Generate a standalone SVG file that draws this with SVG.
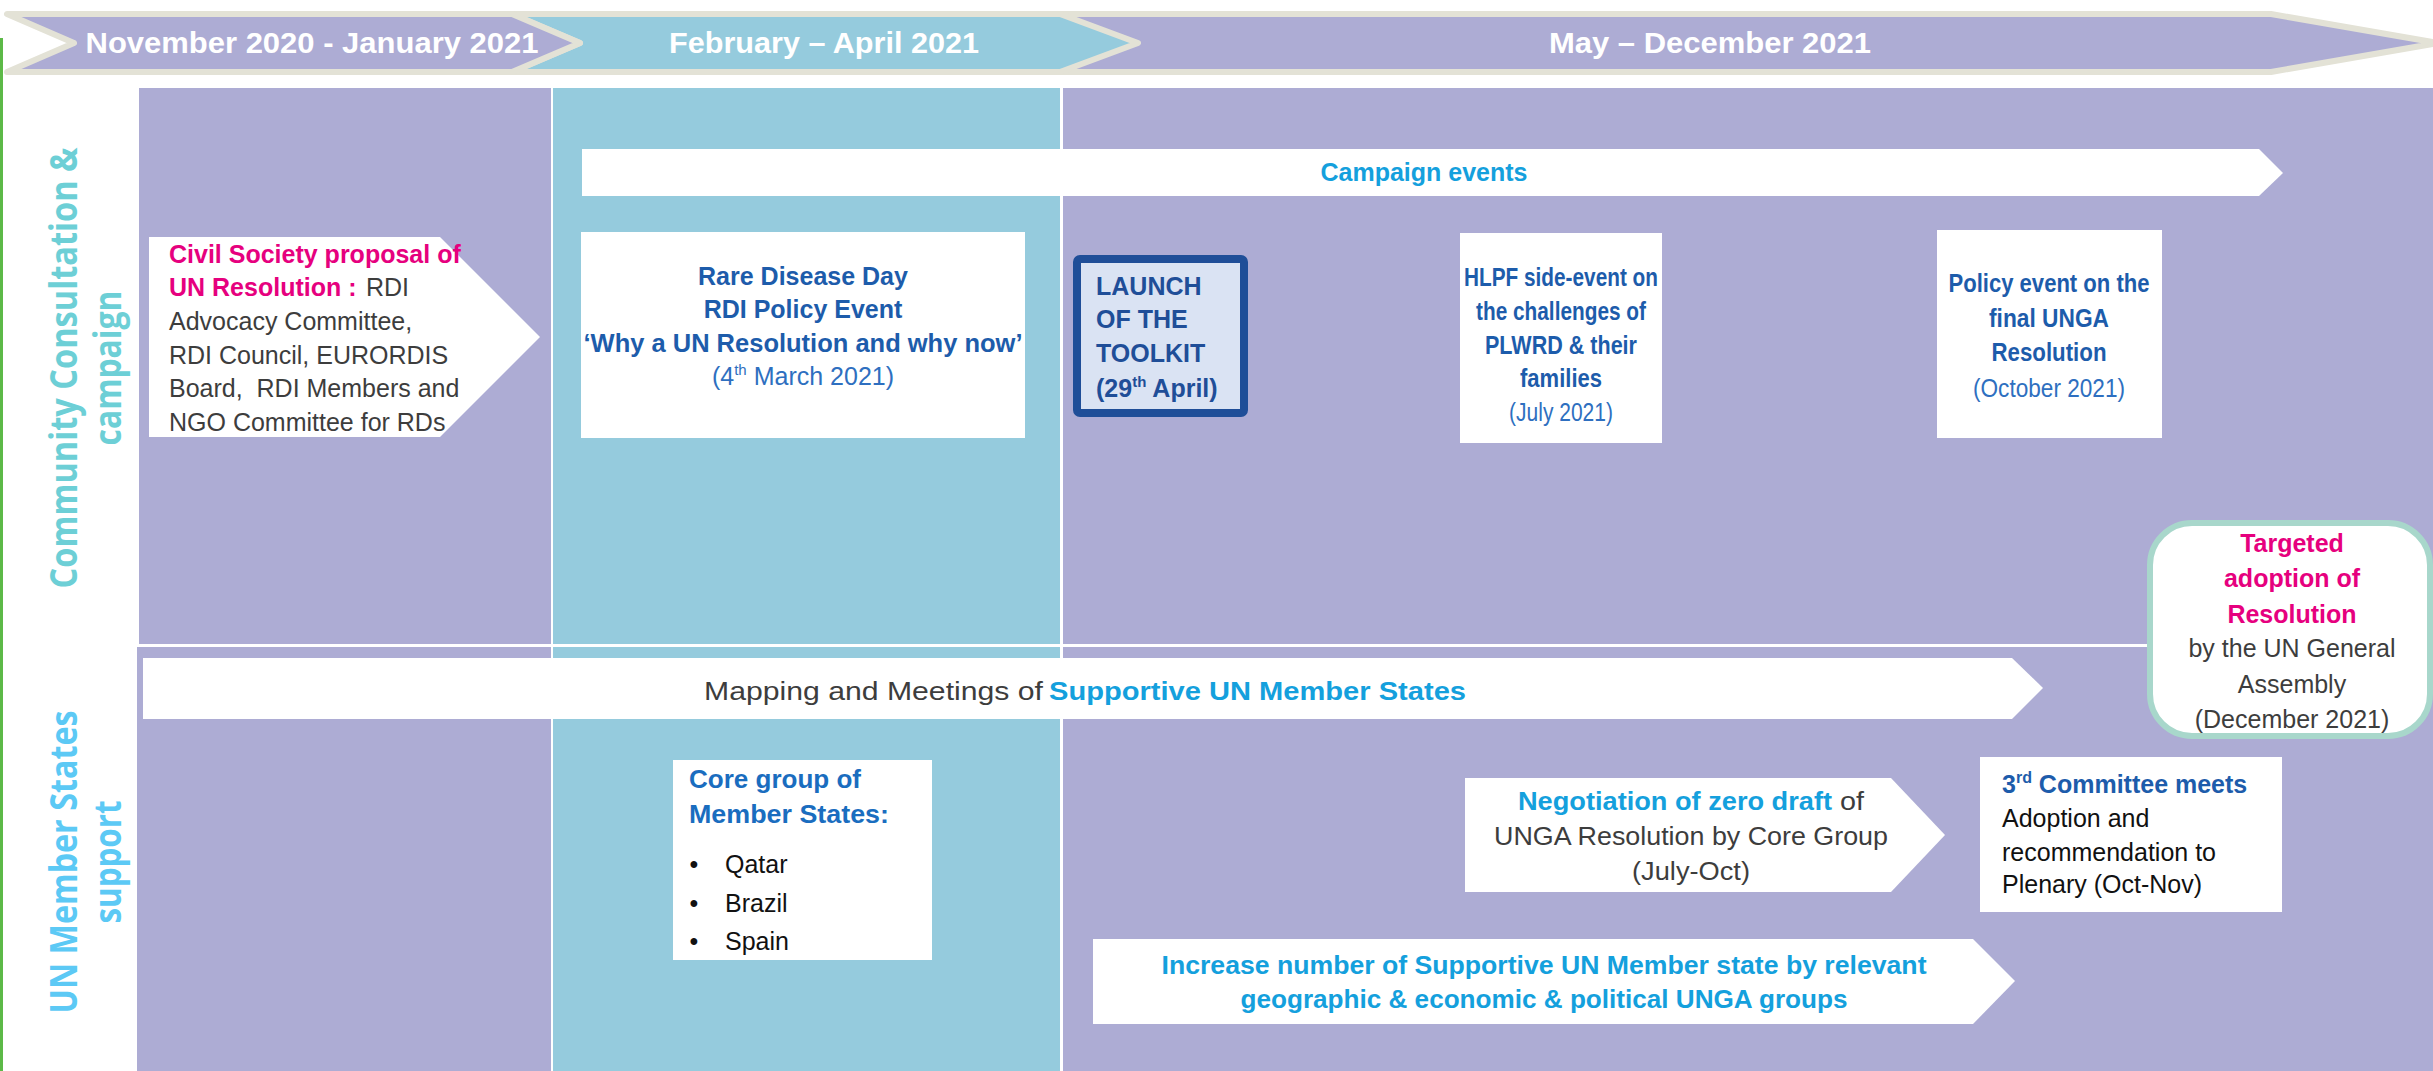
<svg xmlns="http://www.w3.org/2000/svg" width="2433" height="1071" viewBox="0 0 2433 1071">
<style>
.t{font-family:"Liberation Sans",Arial,sans-serif;font-size:25px}
.b{font-weight:bold}
.pu{fill:#ADACD4}
.bl{fill:#95CBDD}
.wh{fill:#FFFFFF}
.band{stroke:#E3E2D6;stroke-width:6;stroke-linejoin:round}
.bt{font-family:"Liberation Sans",Arial,sans-serif;font-size:29px;font-weight:bold;fill:#FFFFFF}
.pink{fill:#E6007E}
.gray{fill:#3D3D3D}
.blk{fill:#111111}
.dblue{fill:#1D5CAB}
.lblue{fill:#2E6FC0}
.bright{fill:#14A0DD}
.navy{fill:#1F4E98}
.core{fill:#1A6DBF}
.vl{font-family:"Open Sans","Liberation Sans",sans-serif;font-size:37px;font-weight:bold}
</style>
<rect width="2433" height="1071" fill="#FFFFFF"/>
<rect x="0" y="38" width="3" height="1033" fill="#5CB947"/>

<g id="grid">
<rect x="139" y="88" width="412" height="556" class="pu"/>
<rect x="553" y="88" width="507" height="556" class="bl"/>
<rect x="1063" y="88" width="1370" height="556" class="pu"/>
<rect x="137" y="647" width="414" height="424" class="pu"/>
<rect x="553" y="647" width="507" height="424" class="bl"/>
<rect x="1063" y="647" width="1370" height="424" class="pu"/>
</g>

<g id="timeline">
<g id="band-may-dec">
<polygon class="band pu" points="950,14 2271,14 2438,43 2271,72 950,72"/>
<text class="bt" x="1710" y="53" text-anchor="middle" textLength="322" lengthAdjust="spacingAndGlyphs">May – December 2021</text>
</g>
<g id="band-feb-apr">
<polygon class="band bl" points="512,14 1060,14 1138,43 1060,72 512,72 580,43"/>
<text class="bt" x="824" y="53" text-anchor="middle" textLength="310" lengthAdjust="spacingAndGlyphs">February – April 2021</text>
</g>
<g id="band-nov-jan">
<polygon class="band pu" points="7,14 512,14 580,43 512,72 7,72 74,43"/>
<text class="bt" x="312" y="53" text-anchor="middle" textLength="453" lengthAdjust="spacingAndGlyphs">November 2020 - January 2021</text>
</g>
</g>

<g id="lane-community">
<text class="vl" fill="#6DCFD6" transform="translate(77,368) rotate(-90)" text-anchor="middle" textLength="441" lengthAdjust="spacingAndGlyphs">Community Consultation &amp;</text>
<text class="vl" fill="#6DCFD6" transform="translate(121,368) rotate(-90)" text-anchor="middle" textLength="155" lengthAdjust="spacingAndGlyphs">campaign</text>
</g>
<g id="lane-member-states">
<text class="vl" fill="#5CC9F5" transform="translate(77,862) rotate(-90)" text-anchor="middle" textLength="303" lengthAdjust="spacingAndGlyphs">UN Member States</text>
<text class="vl" fill="#5CC9F5" transform="translate(121,862) rotate(-90)" text-anchor="middle" textLength="123" lengthAdjust="spacingAndGlyphs">support</text>
</g>

<g id="campaign-events">
<polygon class="wh" points="582,149 2259,149 2283,173 2259,196 582,196"/>
<text class="t b bright" x="1424" y="181" text-anchor="middle">Campaign events</text>
</g>

<g id="civil-society">
<polygon class="wh" points="149,237 440,237 540,337 440,437 149,437"/>
<text class="t b pink" x="169" y="263">Civil Society proposal of</text>
<text class="t b pink" x="169" y="296">UN Resolution :</text>
<text class="t gray" x="366" y="296">RDI</text>
<text class="t gray" x="169" y="330">Advocacy Committee,</text>
<text class="t gray" x="169" y="364">RDI Council, EURORDIS</text>
<text class="t gray" x="169" y="397">Board,&#160; RDI Members and</text>
<text class="t gray" x="169" y="431">NGO Committee for RDs</text>
</g>

<g id="rare-disease-day">
<rect x="581" y="232" width="444" height="206" class="wh"/>
<text class="t b dblue" x="803" y="285" text-anchor="middle" font-size="26">Rare Disease Day</text>
<text class="t b dblue" x="803" y="318" text-anchor="middle" font-size="26">RDI Policy Event</text>
<text class="t b dblue" x="803" y="352" text-anchor="middle" font-size="26" textLength="439" lengthAdjust="spacingAndGlyphs">‘Why a UN Resolution and why now’</text>
<text class="t lblue" x="803" y="385" text-anchor="middle" font-size="26">(4<tspan font-size="15" dy="-10">th</tspan><tspan dy="10"> March 2021)</tspan></text>
</g>

<g id="launch-toolkit">
<rect x="1077" y="259" width="167" height="154" rx="3" fill="#DAE3F3" stroke="#1F4E98" stroke-width="8"/>
<text class="t b navy" x="1096" y="295" font-size="26">LAUNCH</text>
<text class="t b navy" x="1096" y="328" font-size="26">OF THE</text>
<text class="t b navy" x="1096" y="362" font-size="26">TOOLKIT</text>
<text class="t b navy" x="1096" y="397" font-size="26">(29<tspan font-size="15" dy="-10">th</tspan><tspan dy="10"> April)</tspan></text>
</g>

<g id="hlpf-event">
<rect x="1460" y="233" width="202" height="210" class="wh"/>
<text class="t b dblue" x="1561" y="286" font-size="27" text-anchor="middle" textLength="194" lengthAdjust="spacingAndGlyphs">HLPF side-event on</text>
<text class="t b dblue" x="1561" y="320" font-size="27" text-anchor="middle" textLength="170" lengthAdjust="spacingAndGlyphs">the challenges of</text>
<text class="t b dblue" x="1561" y="354" font-size="27" text-anchor="middle" textLength="152" lengthAdjust="spacingAndGlyphs">PLWRD &amp; their</text>
<text class="t b dblue" x="1561" y="387" font-size="27" text-anchor="middle" textLength="82" lengthAdjust="spacingAndGlyphs">families</text>
<text class="t lblue" x="1561" y="421" font-size="27" text-anchor="middle" textLength="104" lengthAdjust="spacingAndGlyphs">(July 2021)</text>
</g>

<g id="policy-event">
<rect x="1937" y="230" width="225" height="208" class="wh"/>
<text class="t b dblue" x="2049" y="292" font-size="27" text-anchor="middle" textLength="201" lengthAdjust="spacingAndGlyphs">Policy event on the</text>
<text class="t b dblue" x="2049" y="327" font-size="27" text-anchor="middle" textLength="120" lengthAdjust="spacingAndGlyphs">final UNGA</text>
<text class="t b dblue" x="2049" y="361" font-size="27" text-anchor="middle" textLength="115" lengthAdjust="spacingAndGlyphs">Resolution</text>
<text class="t lblue" x="2049" y="397" font-size="27" text-anchor="middle" textLength="152" lengthAdjust="spacingAndGlyphs">(October 2021)</text>
</g>

<g id="mapping-meetings">
<polygon class="wh" points="143,658 2012,658 2043,688 2012,719 143,719"/>
<text class="t gray" x="704" y="700" font-size="29" textLength="339" lengthAdjust="spacingAndGlyphs">Mapping and Meetings of</text>
<text class="t b bright" x="1049" y="700" font-size="29" textLength="417" lengthAdjust="spacingAndGlyphs">Supportive UN Member States</text>
</g>

<g id="targeted-adoption">
<rect x="2150" y="523" width="280" height="213" rx="42" fill="#FFFFFF" stroke="#A8D7CB" stroke-width="6"/>
<text class="t b pink" x="2292" y="552" font-size="28.5" text-anchor="middle">Targeted</text>
<text class="t b pink" x="2292" y="587" font-size="28.5" text-anchor="middle">adoption of</text>
<text class="t b pink" x="2292" y="623" font-size="28.5" text-anchor="middle">Resolution</text>
<text class="t gray" x="2292" y="657" font-size="28.5" text-anchor="middle">by the UN General</text>
<text class="t gray" x="2292" y="693" font-size="28.5" text-anchor="middle">Assembly</text>
<text class="t gray" x="2292" y="728" font-size="28.5" text-anchor="middle">(December 2021)</text>
</g>

<g id="core-group">
<rect x="673" y="760" width="259" height="200" class="wh"/>
<text class="t b core" x="689" y="788" font-size="26" textLength="172" lengthAdjust="spacingAndGlyphs">Core group of</text>
<text class="t b core" x="689" y="823" font-size="26" textLength="200" lengthAdjust="spacingAndGlyphs">Member States:</text>
<text class="t blk" x="694" y="873" font-size="30" text-anchor="middle">•</text>
<text class="t blk" x="725" y="873" font-size="31">Qatar</text>
<text class="t blk" x="694" y="912" font-size="30" text-anchor="middle">•</text>
<text class="t blk" x="725" y="912" font-size="31">Brazil</text>
<text class="t blk" x="694" y="950" font-size="30" text-anchor="middle">•</text>
<text class="t blk" x="725" y="950" font-size="31">Spain</text>
</g>

<g id="negotiation">
<polygon class="wh" points="1465,778 1891,778 1945,835 1891,892 1465,892"/>
<text class="t b bright" x="1518" y="810" font-size="26" textLength="314" lengthAdjust="spacingAndGlyphs">Negotiation of zero draft</text>
<text class="t gray" x="1840" y="810" font-size="26" textLength="24" lengthAdjust="spacingAndGlyphs">of</text>
<text class="t gray" x="1691" y="845" font-size="26" text-anchor="middle" textLength="394" lengthAdjust="spacingAndGlyphs">UNGA Resolution by Core Group</text>
<text class="t gray" x="1691" y="880" font-size="26" text-anchor="middle" textLength="118" lengthAdjust="spacingAndGlyphs">(July-Oct)</text>
</g>

<g id="third-committee">
<rect x="1980" y="757" width="302" height="155" class="wh"/>
<text class="t b dblue" x="2002" y="793" font-size="26">3<tspan font-size="16" dy="-10">rd</tspan><tspan dy="10"> Committee meets</tspan></text>
<text class="t blk" x="2002" y="827" font-size="26">Adoption and</text>
<text class="t blk" x="2002" y="861" font-size="26">recommendation to</text>
<text class="t blk" x="2002" y="893" font-size="26">Plenary (Oct-Nov)</text>
</g>

<g id="increase-support">
<polygon class="wh" points="1093,939 1973,939 2015,981 1973,1024 1093,1024"/>
<text class="t b bright" x="1544" y="974" font-size="26" text-anchor="middle" textLength="765" lengthAdjust="spacingAndGlyphs">Increase number of Supportive UN Member state by relevant</text>
<text class="t b bright" x="1544" y="1008" font-size="26" text-anchor="middle" textLength="607" lengthAdjust="spacingAndGlyphs">geographic &amp; economic &amp; political UNGA groups</text>
</g>

<g id="connectors"/>
</svg>
